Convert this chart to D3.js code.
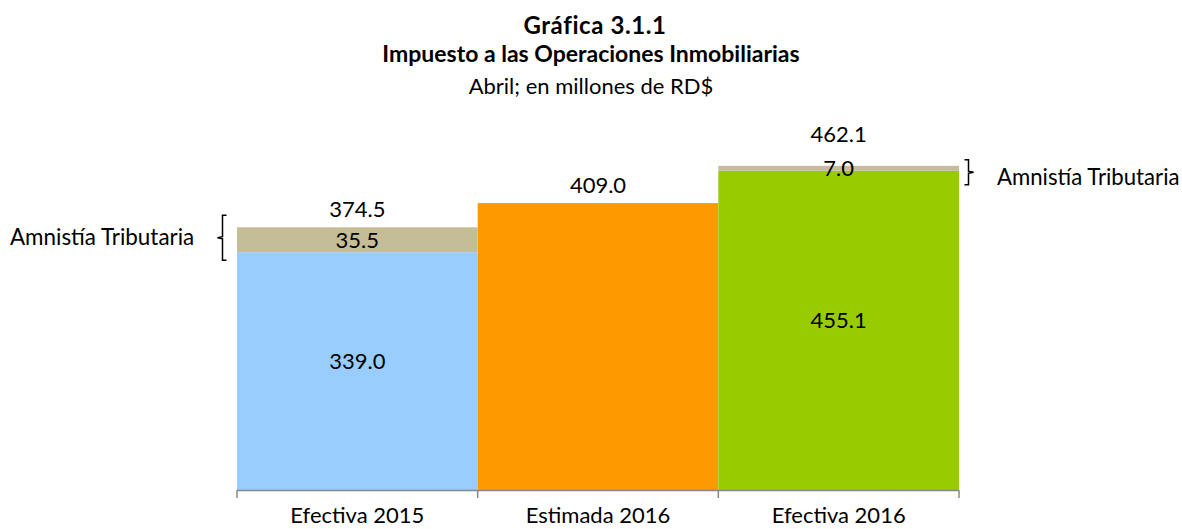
<!DOCTYPE html>
<html>
<head>
<meta charset="utf-8">
<script src="https://cdn.jsdelivr.net/npm/d3@7"></script>
<style>
  html, body { margin: 0; padding: 0; background: #ffffff; }
  svg { display: block; }
  text { font-family: Lato, "Open Sans", sans-serif; fill: #000; }
</style>
</head>
<body>
<svg id="chart" width="1182" height="529"></svg>
<script>
// ---- data ----
const categories = ["Efectiva 2015", "Estimada 2016", "Efectiva 2016"];
const baseValues = [339.0, 409.0, 455.1];
const amnistiaValues = [35.5, 0, 7.0];
const totalValues = [374.5, 409.0, 462.1];
const baseColors = ["#99CCFF", "#FF9900", "#99CC00"];
const amnistiaColor = "#C4BD97";
const titleLines = ["Gráfica 3.1.1", "Impuesto a las Operaciones Inmobiliarias", "Abril; en millones de RD$"];
const amnistiaLabel = "Amnistía Tributaria";

// ---- layout ----
const svg = d3.select("#chart");
const x = d3.scaleBand().domain(categories).range([237, 959]).padding(0);
const y = d3.scaleLinear().domain([0, 500]).range([490, 490 - 350.75]);
const fs = 22;

// titles
svg.append("text").attr("x", 595).attr("y", 34).attr("text-anchor", "middle")
  .attr("font-weight", "bold").attr("font-size", 24).attr("letter-spacing", 0.6).text(titleLines[0]);
svg.append("text").attr("x", 591).attr("y", 62).attr("text-anchor", "middle")
  .attr("font-weight", "bold").attr("font-size", 23).text(titleLines[1]);
svg.append("text").attr("x", 591).attr("y", 94).attr("text-anchor", "middle")
  .attr("font-size", fs).text(titleLines[2]);

const rows = categories.map((c, i) => ({c, base: baseValues[i], am: amnistiaValues[i], total: totalValues[i], color: baseColors[i]}));

// base bars
svg.selectAll("rect.base").data(rows).join("rect").attr("class", "base")
  .attr("x", d => x(d.c)).attr("width", x.bandwidth())
  .attr("y", d => y(d.base)).attr("height", d => y(0) - y(d.base))
  .attr("fill", d => d.color);

// amnistía segments
svg.selectAll("rect.am").data(rows.filter(d => d.am > 0)).join("rect").attr("class", "am")
  .attr("x", d => x(d.c)).attr("width", x.bandwidth())
  .attr("y", d => y(d.base + d.am)).attr("height", d => y(d.base) - y(d.base + d.am))
  .attr("fill", amnistiaColor);

// inner labels (only for stacked bars)
svg.selectAll("text.baseLbl").data(rows.filter(d => d.am > 0)).join("text").attr("class", "baseLbl")
  .attr("x", d => x(d.c) + x.bandwidth() / 2)
  .attr("y", d => (y(0) + y(d.base)) / 2 - 2.5)
  .attr("text-anchor", "middle").attr("font-size", fs)
  .text(d => d.base.toFixed(1));

svg.selectAll("text.amLbl").data(rows.filter(d => d.am > 0)).join("text").attr("class", "amLbl")
  .attr("x", d => x(d.c) + x.bandwidth() / 2)
  .attr("y", d => (y(d.base) + y(d.base + d.am)) / 2 + 8)
  .attr("text-anchor", "middle").attr("font-size", fs)
  .text(d => d.am.toFixed(1));

// total labels
svg.selectAll("text.totLbl").data(rows).join("text").attr("class", "totLbl")
  .attr("x", d => x(d.c) + x.bandwidth() / 2)
  .attr("y", d => y(d.total) - ((d.am > 0 && y(d.base) - y(d.total) < 10) ? 24 : 10))
  .attr("text-anchor", "middle").attr("font-size", fs)
  .text(d => d.total.toFixed(1));

// axis
svg.append("line").attr("x1", x.range()[0]).attr("x2", x.range()[1])
  .attr("y1", 490.5).attr("y2", 490.5).attr("stroke", "#888").attr("stroke-width", 1.5);
const bounds = categories.map(c => x(c)).concat([x.range()[1]]);
svg.selectAll("line.tick").data(bounds).join("line").attr("class", "tick")
  .attr("x1", d => d).attr("x2", d => d).attr("y1", 490).attr("y2", 498)
  .attr("stroke", "#888").attr("stroke-width", 1.5);
svg.selectAll("text.cat").data(categories).join("text").attr("class", "cat")
  .attr("x", d => x(d) + x.bandwidth() / 2).attr("y", 523)
  .attr("text-anchor", "middle").attr("font-size", fs).text(d => d);

// brace annotations
const left = rows[0], right = rows[2];
const lTop = y(left.total) - 12, lBot = y(left.base) + 8, lMid = (lTop + lBot) / 2;
const lx = 222.5;
svg.append("path")
  .attr("d", `M${lx + 4},${lTop} L${lx},${lTop} L${lx},${lMid - 1} L${lx - 5},${lMid} L${lx},${lMid + 1} L${lx},${lBot} L${lx + 4},${lBot}`)
  .attr("fill", "none").attr("stroke", "#000").attr("stroke-width", 1.5);
svg.append("text").attr("x", 10).attr("y", 245).attr("font-size", 22.4).text(amnistiaLabel);

const rTop = y(right.total) - 6, rBot = y(right.base) + 14, rMid = (rTop + rBot) / 2;
const rx = 968.5;
svg.append("path")
  .attr("d", `M${rx - 4},${rTop} L${rx},${rTop} L${rx},${rMid - 1} L${rx + 5},${rMid} L${rx},${rMid + 1} L${rx},${rBot} L${rx - 4},${rBot}`)
  .attr("fill", "none").attr("stroke", "#000").attr("stroke-width", 1.5);
svg.append("text").attr("x", 997).attr("y", 185).attr("font-size", 22.2).text(amnistiaLabel);
</script>
</body>
</html>
